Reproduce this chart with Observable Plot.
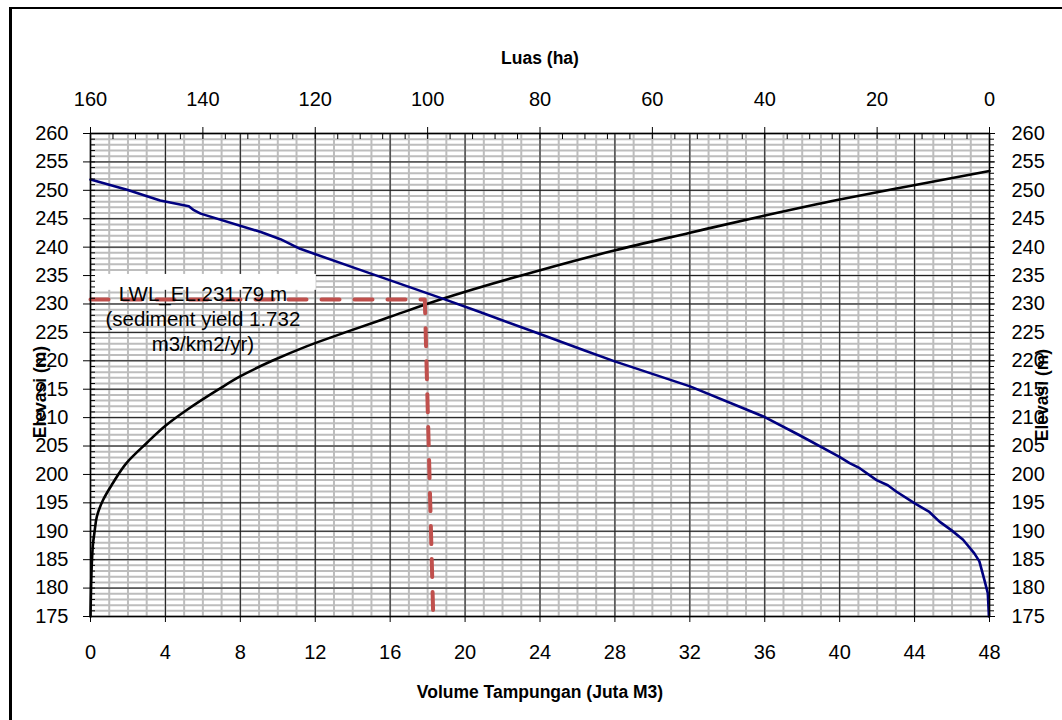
<!DOCTYPE html>
<html><head><meta charset="utf-8">
<script src="https://cdn.jsdelivr.net/npm/d3@7"></script>
<script src="https://cdn.jsdelivr.net/npm/@observablehq/plot@0.6"></script>
<style>
body{margin:0;background:#fff;}
#wrap{position:relative;width:1062px;height:720px;overflow:hidden;background:#fff;}
#border{position:absolute;left:9px;top:7px;width:2000px;height:2000px;border-left:3px solid #000;border-top:2px solid #000;pointer-events:none;}
</style></head><body><div id="wrap"></div>
<script>
// Volume (Juta M3) vs elevation (m) — black curve, bottom axis
const volElev = [175, 180, 185, 188, 190, 192.6, 195.5, 198.4, 202, 205.5, 208.7, 211.3, 215.1, 217.2, 220, 222.5, 225, 227.7, 230.9, 235.9, 239.4, 242.5, 245.5, 248.4, 250.9, 253.4];
const volume  = [0, 0.03, 0.08, 0.14, 0.22, 0.34, 0.67, 1.18, 1.92, 2.99, 4.05, 5.12, 6.9, 7.96, 9.7, 11.5, 13.6, 15.96, 18.8, 23.96, 27.96, 31.96, 35.9, 40, 43.96, 48];
// Area (ha) vs elevation (m) — blue curve, top (reversed) axis
const areaElev = [175, 179.1, 181.4, 184.7, 186.1, 188.5, 190.2, 191.7, 193.4, 194.9, 197, 198.1, 199, 201.1, 202, 203.1, 206.9, 210.1, 215.5, 219.9, 221.9, 224.7, 228.6, 230.9, 236, 239.7, 241.4, 242.7, 245.9, 246.5, 247.2, 248.2, 250.1, 251.9];
const area     = [0.1, 0.3, 0.9, 1.8, 2.7, 4.7, 6.8, 8.9, 10.7, 13.3, 16.6, 18.1, 20.1, 23.1, 24.9, 26.7, 33.8, 40, 53.3, 66.7, 72.3, 80, 90.7, 97.2, 112, 122.7, 126.2, 129.8, 140.4, 141.6, 142.5, 147.6, 153.5, 160];
// Reference (LWL) dashed line
const refVol  = [0, 17.85, 18.3];
const refElev = [230.79, 230.79, 175];
// Tick labels
const volumeTicks = [0, 4, 8, 12, 16, 20, 24, 28, 32, 36, 40, 44, 48];
const areaTicks   = [160, 140, 120, 100, 80, 60, 40, 20, 0];
const elevTicks   = [175, 180, 185, 190, 195, 200, 205, 210, 215, 220, 225, 230, 235, 240, 245, 250, 255, 260];
// Annotation
const annotText = "LWL_EL.231.79 m\n(sediment yield 1.732\nm3/km2/yr)";
const annotAt = {x: 6.0, y: 227.5};
const annotBox = {x1: -0.3, x2: 12.06, y1: 232.4, y2: 235.2};

const VOL_MAX = 48, AREA_MAX = 160;
const toVol = a => VOL_MAX * (1 - a / AREA_MAX);
const toArea = v => Math.round(AREA_MAX * (1 - v / VOL_MAX));

const volData = volume.map((v, i) => ({v, e: volElev[i]}));
const areaData = area.map((a, i) => ({v: toVol(a), e: areaElev[i]}));
const refData = refVol.map((v, i) => ({v, e: refElev[i]}));

const minorV = d3.range(0, 49, 1);
const minorE = d3.range(175, 261, 1);
const minorA = d3.range(0, 161, 4).map(toVol);

const FONT = 20;
const chart = Plot.plot({
  width: 1062, height: 720,
  marginLeft: 90, marginRight: 73, marginTop: 133, marginBottom: 104,
  style: {fontFamily: "'Liberation Sans', Arial, sans-serif", fontSize: FONT + "px", color: "#000", background: "transparent", overflow: "visible"},
  x: {domain: [0, 48]},
  y: {domain: [175, 260]},
  marks: [
    Plot.ruleX(minorV, {stroke: "#bdbdbd", strokeWidth: 2}),
    Plot.ruleY(minorE, {stroke: "#bdbdbd", strokeWidth: 2}),
    Plot.ruleX(volumeTicks, {stroke: "#1a1a1a", strokeWidth: 1}),
    Plot.ruleY(elevTicks, {stroke: "#1a1a1a", strokeWidth: 1}),
    Plot.rect([annotBox], {x1: "x1", x2: "x2", y1: "y1", y2: "y2", fill: "white"}),
    Plot.line(volData, {x: "v", y: "e", stroke: "#000", strokeWidth: 2.6, curve: "monotone-y"}),
    Plot.line(areaData, {x: "v", y: "e", stroke: "#000080", strokeWidth: 2.6}),
    Plot.line(refData, {x: "v", y: "e", stroke: "#C0504D", strokeWidth: 4, strokeDasharray: "18,15"}),
    Plot.text([annotText], {x: () => annotAt.x, y: () => annotAt.y, text: d => d, fontSize: 20.5, lineHeight: 1.22, lineAnchor: "middle", fill: "#000"}),
    Plot.frame({stroke: "#000", strokeWidth: 1.5}),
    // left axis
    Plot.axisY(elevTicks, {anchor: "left", tickSize: 7, tickPadding: 15, fontSize: FONT, label: null}),
    Plot.axisY(minorE, {anchor: "left", tickSize: -5, tickFormat: () => "", label: null}),
    // right axis
    Plot.axisY(elevTicks, {anchor: "right", tickSize: 5, tickPadding: 17, fontSize: FONT, label: null}),
    Plot.axisY(minorE, {anchor: "right", tickSize: 4, tickFormat: () => "", label: null}),
    // bottom axis
    Plot.axisX(volumeTicks, {anchor: "bottom", tickSize: 6, tickPadding: 22, fontSize: FONT, label: null}),
    // top axis (area, reversed)
    Plot.axisX(areaTicks.map(toVol), {anchor: "top", tickSize: 7, tickPadding: 21, fontSize: FONT, tickFormat: toArea, label: null}),
    Plot.axisX(minorA, {anchor: "top", tickSize: -5, tickFormat: () => "", label: null}),
    // titles
    Plot.text(["Luas (ha)"], {frameAnchor: "top", dy: -75, lineAnchor: "middle", textAnchor: "middle", fontWeight: "bold", fontSize: 17.5}),
    Plot.text(["Volume Tampungan (Juta M3)"], {frameAnchor: "bottom", dy: 76, lineAnchor: "middle", textAnchor: "middle", fontWeight: "bold", fontSize: 17.5}),
    Plot.text(["Elevasi (m)"], {frameAnchor: "left", dx: -50, dy: 17, rotate: -90, lineAnchor: "middle", textAnchor: "middle", fontWeight: "bold", fontSize: 17.5}),
    Plot.text(["Elevasi (m)"], {frameAnchor: "right", dx: 53, dy: 20, rotate: -90, lineAnchor: "middle", textAnchor: "middle", fontWeight: "bold", fontSize: 17.5})
  ]
});
const wrap = document.getElementById("wrap");
wrap.appendChild(chart);
const b = document.createElement("div"); b.id = "border"; wrap.appendChild(b);
</script>
</body></html>
